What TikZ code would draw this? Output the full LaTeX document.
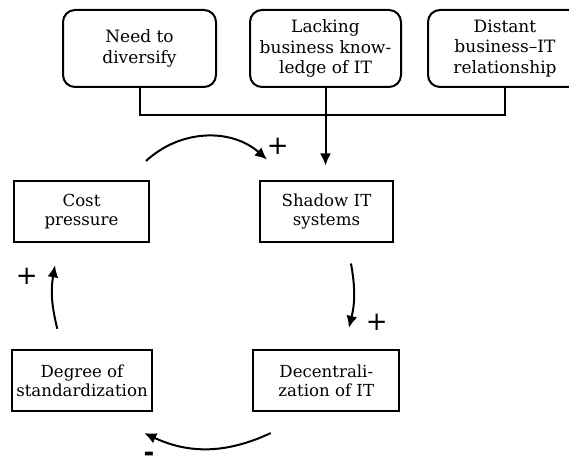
\documentclass[tikz,border=0pt]{standalone}
\usepackage{fontspec}
\setmainfont{DejaVu Serif}
\setsansfont{DejaVu Sans}
\usetikzlibrary{arrows.meta}

\tikzset{
  >={Latex[length=6pt,width=5.5pt]},
  topbox/.style={draw,line width=1pt,rounded corners=6pt,minimum height=38.5pt,
    align=center,inner sep=1pt,font=\fontsize{8.5}{10.3}\selectfont},
  loopbox/.style={draw,line width=1pt,minimum height=30.5pt,
    align=center,inner sep=1pt,font=\fontsize{8.3}{9.5}\selectfont},
  sign/.style={font=\sffamily\fontsize{13}{13}\selectfont,inner sep=0pt},
  link/.style={line width=1pt}
}

\begin{document}
\begin{tikzpicture}[x=0.5pt,y=-0.5pt]
\useasboundingbox (0,0) rectangle (569,469);
\clip (0,0) rectangle (569,469);
%Drivers
\node[topbox,minimum width=76.5pt] (need) at (139.5,48.5) {Need to\\diversify};
\node[topbox,minimum width=75.5pt] (lack) at (325.5,48.5) {Lacking\\business know-\\ledge of IT};
\node[topbox,minimum width=77pt] (dist) at (505,48.5) {Distant\\business--IT\\relationship};
%Loop
\node[loopbox,minimum width=67.5pt] (cost) at (81.5,211.5) {Cost\\pressure};
\node[loopbox,minimum width=66.5pt] (shadow) at (326.5,212) {Shadow IT\\systems};
\node[loopbox,minimum width=69.7pt] (degree) at (82,381) {Degree of\\standardization};
\node[loopbox,minimum width=73pt] (decent) at (326.3,381) {Decentrali-\\zation of IT};
%Joining the drivers
\coordinate (join) at (325.5,115);
\draw[link] (need.south) |- (join) -| (dist.south);
\draw[link,->,shorten >=7.5pt] (lack.south) -- (lack.south |- shadow.north);
%Arrows of the loop
\draw[link,->] ([shift={(-2pt,9.5pt)}]cost.north east) to[bend left=42]
  ([shift={(4pt,10.5pt)}]shadow.north west);
\draw[link,->] ([shift={(12.25pt,-10pt)}]shadow.south) to[bend left=12]
  ([shift={(11.3pt,10.8pt)}]decent.north);
\draw[link,->] ([shift={(9.2pt,-10.3pt)}]decent.south west) to[bend left=25]
  ([shift={(-4.2pt,-10.3pt)}]degree.south east);
\draw[link,->] ([shift={(-12.35pt,10.35pt)}]degree.north) to[bend left=12]
  ([shift={(-13.25pt,-11.15pt)}]cost.south);
%Signs
\node[sign] (signtop) at (277.7,146.7) {+};
\node[sign] (signright) at (376.7,322.7) {+};
\node[sign,font=\sffamily\bfseries\fontsize{13}{13}\selectfont] (signbottom) at (149,457) {-};
\node[sign] (signleft) at (26.7,276.7) {+};
\end{tikzpicture}
\end{document}
